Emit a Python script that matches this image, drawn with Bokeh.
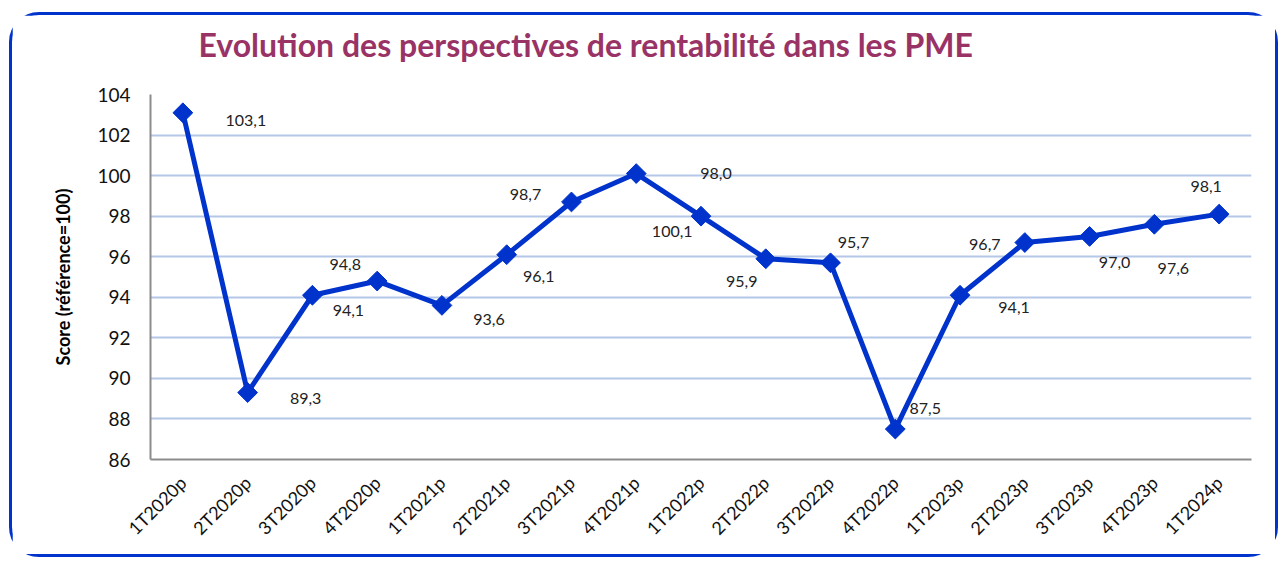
import math
from bokeh.plotting import figure
from bokeh.models import ColumnDataSource, Range1d, FixedTicker, Title
from bokeh.core.properties import value
from bokeh.embed import file_html
from bokeh.resources import INLINE

categories = ["1T2020p", "2T2020p", "3T2020p", "4T2020p", "1T2021p", "2T2021p",
              "3T2021p", "4T2021p", "1T2022p", "2T2022p", "3T2022p", "4T2022p",
              "1T2023p", "2T2023p", "3T2023p", "4T2023p", "1T2024p"]
scores = [103.1, 89.3, 94.1, 94.8, 93.6, 96.1, 98.7, 100.1, 98.0, 95.9, 95.7,
          87.5, 94.1, 96.7, 97.0, 97.6, 98.1]
labels = ["103,1", "89,3", "94,1", "94,8", "93,6", "96,1", "98,7", "100,1", "98,0",
          "95,9", "95,7", "87,5", "94,1", "96,7", "97,0", "97,6", "98,1"]
y_ticks = [86, 88, 90, 92, 94, 96, 98, 100, 102, 104]

# label placement (screen pixels, dx right, dy down)
label_dx = [63, 58, 36, -32, 47, 32, -46, 36, 15, -24, 23, 30, 54, -40, 25, 19, -13]
label_dy = [8, 6, 15, -17, 14, 22, -7, 58, -43, 23, -20, -21, 12, 2, 26, 44, -28]

BLUE = "#0033cc"
FONT = "Lato"

src = ColumnDataSource(dict(cat=categories, y=scores, lab=labels,
                            dx=label_dx, dy=label_dy))

p = figure(width=1269, height=545, x_range=categories, y_range=Range1d(86, 104),
           output_backend="svg", toolbar_location=None,
           min_border_left=138, min_border_right=30, min_border_top=79,
           min_border_bottom=101, background_fill_color="white",
           border_fill_color="white", outline_line_color=None)

p.styles = {"border": "3px solid #0033cc", "border-radius": "30px",
            "box-shadow": "inset 0 0 0 2px #ffffff, inset 0 0 0 3px #5a78dc",
            "margin-left": "9px", "margin-top": "12px"}

p.title = Title(text="Evolution des perspectives de rentabilité dans les PME",
                text_font=FONT, text_font_size="32px", text_font_style="bold",
                text_color="#993366", align="left", offset=48, standoff=0,
                vertical_align="bottom")
# spacer between the title and the plot area
p.add_layout(Title(text=" ", text_font_size="1px", standoff=28), "above")

p.line("cat", "y", source=src, line_color=BLUE, line_width=5)
p.scatter("cat", "y", source=src, marker="square", angle=math.pi / 4, size=14,
          fill_color=BLUE, line_color=BLUE)
p.text("cat", "y", text="lab", source=src, x_offset="dx", y_offset="dy",
       text_font=value(FONT), text_font_size="16px", text_color="#222222",
       text_align="center", text_baseline="middle")

p.yaxis.ticker = FixedTicker(ticks=y_ticks)
p.yaxis.major_tick_line_color = None
p.yaxis.minor_tick_line_color = None
p.yaxis.axis_line_color = "#8c8c8c"
p.yaxis.axis_line_width = 2
p.yaxis.major_label_text_font = FONT
p.yaxis.major_label_text_font_size = "19px"
p.yaxis.major_label_text_color = "#111111"
p.yaxis.major_label_standoff = 14
p.yaxis.axis_label = "Score (référence=100)"
p.yaxis.axis_label_text_font = FONT
p.yaxis.axis_label_text_font_size = "18px"
p.yaxis.axis_label_text_font_style = "bold"
p.yaxis.axis_label_text_color = "#000000"
p.yaxis.axis_label_standoff = 20

p.xaxis.major_tick_line_color = None
p.xaxis.minor_tick_line_color = None
p.xaxis.axis_line_color = "#8c8c8c"
p.xaxis.axis_line_width = 2
p.xaxis.major_label_orientation = math.pi / 4
p.xaxis.major_label_text_font = FONT
p.xaxis.major_label_text_font_size = "18px"
p.xaxis.major_label_text_color = "#111111"
p.xaxis.major_label_standoff = 14

p.xgrid.grid_line_color = None
p.ygrid.grid_line_color = "#b4c7e7"
p.ygrid.grid_line_width = 2

open("out.html", "w").write(file_html(p, INLINE))
